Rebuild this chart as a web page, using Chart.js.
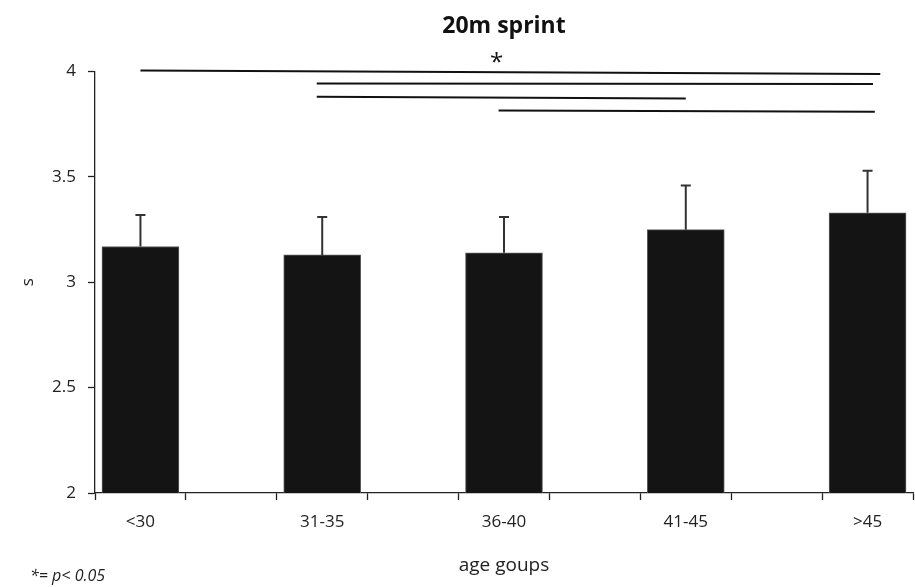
<!DOCTYPE html>
<html>
<head>
<meta charset="utf-8">
<script src="https://cdn.jsdelivr.net/npm/chart.js@4"></script>
<style>
  html, body { margin: 0; padding: 0; background: #fff; }
  #wrap { width: 915px; height: 587px; }
</style>
</head>
<body>
<div id="wrap"><canvas id="grafico" width="915" height="587"></canvas></div>
<script>
// valores
var grupos = ['<30', '31-35', '36-40', '41-45', '>45'];
var medias = [3.17, 3.13, 3.14, 3.25, 3.33];
var desv = [0.15, 0.18, 0.17, 0.21, 0.20];

// lineas de significancia: inicio / fin (posicion de grupo) y altura (s)
var sigDesde = [0.0, 0.97, 0.97, 1.97];
var sigHasta = [4.07, 4.03, 3.0, 4.04];
var sigYIni = [4.005, 3.943, 3.881, 3.815];
var sigYFin = [3.989, 3.941, 3.872, 3.809];
var estrella = { x: 1.96, y: 4.057 };

var yTicks = [2, 2.5, 3, 3.5, 4];
var fuente = "'Open Sans', 'Noto Sans', sans-serif";

var barras = [];
for (var i in grupos) {
    barras.push({ x: Number(i), y: medias[i] });
}

var datasets = [{
    type: 'bar',
    label: '20m sprint',
    data: barras,
    backgroundColor: '#141414',
    borderColor: '#5e5e5e',
    borderWidth: 1,
    barThickness: 77
}];

for (var k = 0; k < sigDesde.length; k++) {
    datasets.push({
        type: 'line',
        label: 'sig' + k,
        data: [{ x: sigDesde[k], y: sigYIni[k] }, { x: sigHasta[k], y: sigYFin[k] }],
        borderColor: '#111',
        borderWidth: 2,
        pointRadius: 0,
        fill: false,
        clip: false
    });
}

// barras de error, asterisco y nota al pie
var extras = {
    id: 'extras',
    afterDatasetsDraw: function(chart) {
        var ctx = chart.ctx;
        var ys = chart.scales.y;
        var xs = chart.scales.x;
        var meta = chart.getDatasetMeta(0);
        ctx.save();
        ctx.strokeStyle = '#333';
        ctx.lineWidth = 2;
        meta.data.forEach(function(bar, i) {
            var y0 = ys.getPixelForValue(medias[i]);
            var y1 = ys.getPixelForValue(medias[i] + desv[i]);
            ctx.beginPath();
            ctx.moveTo(bar.x, y0);
            ctx.lineTo(bar.x, y1);
            ctx.moveTo(bar.x - 5, y1);
            ctx.lineTo(bar.x + 5, y1);
            ctx.stroke();
        });

        ctx.fillStyle = '#111';
        ctx.font = '24px ' + fuente;
        ctx.textAlign = 'center';
        ctx.textBaseline = 'middle';
        ctx.fillText('*', xs.getPixelForValue(estrella.x), ys.getPixelForValue(estrella.y) + 4);

        ctx.font = 'italic 16px ' + fuente;
        ctx.textAlign = 'left';
        ctx.textBaseline = 'alphabetic';
        ctx.fillStyle = '#222';
        ctx.fillText('*= p< 0.05', 30, 581);
        ctx.restore();
    }
};

var graphTarget = document.getElementById('grafico');
var barGraph = new Chart(graphTarget, {
    data: { datasets: datasets },
    plugins: [extras],
    options: {
        responsive: false,
        animation: false,
        layout: { padding: { left: 0, right: 2, top: 0, bottom: 0 } },
        plugins: {
            legend: { display: false },
            tooltip: { enabled: false },
            title: {
                display: true,
                text: '20m sprint',
                fullSize: false,
                color: '#111',
                font: { family: fuente, size: 23, weight: 'bold' },
                padding: { top: 13, bottom: 31 }
            }
        },
        scales: {
            x: {
                type: 'linear',
                min: -0.25,
                max: 4.25,
                offset: false,
                afterFit: function(scale) {
                    scale.height = 94;
                    scale.paddingLeft = 0;
                    scale.paddingRight = 0;
                },
                afterBuildTicks: function(scale) {
                    // marcas entre grupos + posiciones de grupo (solo etiqueta)
                    var t = [];
                    for (var j = 0; j <= 9; j++) t.push({ value: -0.25 + j * 0.5 });
                    for (var g = 0; g < grupos.length; g++) t.push({ value: g });
                    t.sort(function(a, b) { return a.value - b.value; });
                    scale.ticks = t;
                },
                grid: {
                    offset: false,
                    drawOnChartArea: false,
                    drawTicks: true,
                    tickLength: 7,
                    tickWidth: 1.3,
                    tickColor: function(c) {
                        var v = c.tick ? c.tick.value : 0;
                        return Number.isInteger(v) ? 'rgba(0,0,0,0)' : '#222';
                    }
                },
                border: { color: '#222', width: 1.3 },
                ticks: {
                    autoSkip: false,
                    maxRotation: 0,
                    padding: 12,
                    color: '#222',
                    font: { family: fuente, size: 17 },
                    callback: function(value) {
                        return Number.isInteger(value) ? grupos[value] : '';
                    }
                },
                title: {
                    display: true,
                    text: 'age goups',
                    color: '#222',
                    font: { family: fuente, size: 19 },
                    padding: { top: 0, bottom: 10 }
                }
            },
            y: {
                min: 2,
                max: 4,
                afterFit: function(scale) { scale.width = 95; },
                afterBuildTicks: function(scale) {
                    scale.ticks = yTicks.map(function(v) { return { value: v }; });
                },
                grid: {
                    drawOnChartArea: false,
                    drawTicks: true,
                    tickLength: 7,
                    tickWidth: 1.3,
                    tickColor: '#222'
                },
                border: { color: '#222', width: 1.3 },
                ticks: {
                    padding: 12,
                    color: '#222',
                    font: { family: fuente, size: 17 },
                    callback: function(value) { return String(value); }
                },
                title: {
                    display: true,
                    text: 's',
                    color: '#222',
                    font: { family: fuente, size: 17 },
                    padding: { top: 18, bottom: 0 }
                }
            }
        }
    }
});
</script>
</body>
</html>
